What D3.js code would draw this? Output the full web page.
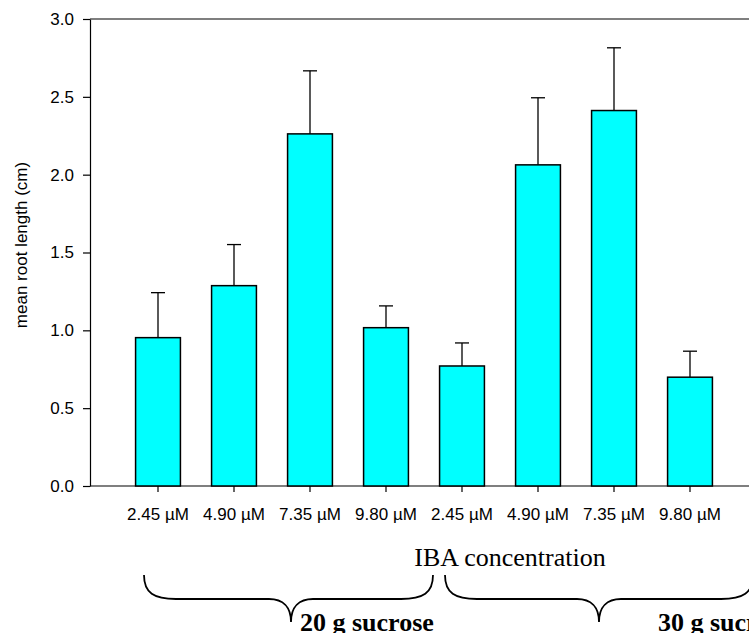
<!DOCTYPE html>
<html>
<head>
<meta charset="utf-8">
<script src="https://cdn.jsdelivr.net/npm/d3@7"></script>
<style>
  body { margin: 0; background: #fff; }
  svg { display: block; }
</style>
</head>
<body>
<svg id="svg" width="749" height="633"></svg>
<script>
// data
const doses = ["2.45 µM", "4.90 µM", "7.35 µM", "9.80 µM", "2.45 µM", "4.90 µM", "7.35 µM", "9.80 µM"];
const means = [0.953, 1.287, 2.262, 1.017, 0.771, 2.063, 2.412, 0.699];
const errors = [0.289, 0.264, 0.405, 0.14, 0.148, 0.431, 0.403, 0.167];
const yTicks = [0, 0.5, 1.0, 1.5, 2.0, 2.5, 3.0];
const groups = ["20 g sucrose", "30 g sucrose"];

const SANS = "'Liberation Sans', Arial, sans-serif";
const SERIF = "'Liberation Serif', 'Times New Roman', serif";

function main() {
    let svg = d3.select("#svg");
    let left = 90, right = 749;

    let y = d3.scaleLinear().domain([0, 3]).range([486, 19]);
    let x = d3.scaleBand()
        .domain(d3.range(doses.length))
        .range([120, 728])
        .paddingInner(0.41)
        .paddingOuter(0.205);

    // frame: top line and x axis line run off the right edge
    svg.append("line")
        .attr("x1", left).attr("x2", right)
        .attr("y1", y(3)).attr("y2", y(3))
        .attr("stroke", "black").attr("stroke-width", 1.2);
    svg.append("line")
        .attr("x1", left).attr("x2", right)
        .attr("y1", y(0)).attr("y2", y(0))
        .attr("stroke", "black").attr("stroke-width", 1.2);

    // y axis
    let yAxis = svg.append("g")
        .attr("transform", `translate(${left},0)`)
        .call(d3.axisLeft(y).tickValues(yTicks).tickFormat(d3.format(".1f"))
            .tickSize(7).tickSizeOuter(0).tickPadding(9));
    yAxis.select(".domain").attr("stroke-width", 1.2);
    yAxis.selectAll(".tick line").attr("stroke-width", 1.2);
    yAxis.selectAll("text")
        .attr("font-family", SANS).attr("font-size", 17).attr("fill", "black");

    // x axis ticks and labels
    let xAxis = svg.append("g")
        .attr("transform", `translate(0,${y(0)})`)
        .call(d3.axisBottom(x).tickFormat(i => doses[i]).tickSize(6).tickPadding(16));
    xAxis.select(".domain").remove();
    xAxis.selectAll(".tick line").attr("stroke-width", 1.2);
    xAxis.selectAll("text")
        .attr("font-family", SANS).attr("font-size", 17).attr("fill", "black");

    // error bars (upper only)
    let err = svg.append("g").attr("stroke", "black").attr("stroke-width", 1.3);
    doses.forEach((d, i) => {
        let cx = x(i) + x.bandwidth() / 2;
        err.append("line")
            .attr("x1", cx).attr("x2", cx)
            .attr("y1", y(means[i])).attr("y2", y(means[i] + errors[i]));
        err.append("line")
            .attr("x1", cx - 7).attr("x2", cx + 7)
            .attr("y1", y(means[i] + errors[i])).attr("y2", y(means[i] + errors[i]));
    });

    // bars
    svg.append("g").selectAll("rect")
        .data(means)
        .join("rect")
        .attr("x", (d, i) => x(i))
        .attr("y", d => y(d))
        .attr("width", x.bandwidth())
        .attr("height", d => y(0) - y(d))
        .attr("fill", "#00ffff")
        .attr("stroke", "black")
        .attr("stroke-width", 1.5);

    // y label
    svg.append("text")
        .attr("transform", "translate(27,245) rotate(-90)")
        .attr("text-anchor", "middle")
        .attr("font-family", SANS).attr("font-size", 17)
        .text("mean root length (cm)");

    // x label
    svg.append("text")
        .attr("x", 510).attr("y", 566)
        .attr("text-anchor", "middle")
        .attr("font-family", SERIF).attr("font-size", 26)
        .text("IBA concentration");

    // braces under the two sucrose groups (the picture is cut at the right and bottom)
    let braces = [
        { x0: 144, x1: 433, mid: 291, labelX: 300 },
        { x0: 445, x1: 753, mid: 599, labelX: 658 }
    ];
    let top = 575, flat = 599, tip = 622;
    braces.forEach((b, i) => {
        let p = d3.path();
        p.moveTo(b.x0, top);
        p.bezierCurveTo(b.x0, flat - 6, b.x0 + 10, flat, b.x0 + 32, flat);
        p.lineTo(b.mid - 22, flat);
        p.bezierCurveTo(b.mid - 8, flat, b.mid, flat + 8, b.mid, tip);
        p.bezierCurveTo(b.mid, flat + 8, b.mid + 8, flat, b.mid + 22, flat);
        p.lineTo(b.x1 - 32, flat);
        p.bezierCurveTo(b.x1 - 10, flat, b.x1, flat - 6, b.x1, top);
        svg.append("path")
            .attr("d", p.toString())
            .attr("fill", "none")
            .attr("stroke", "black")
            .attr("stroke-width", 1.8);
        svg.append("text")
            .attr("x", b.labelX).attr("y", 631)
            .attr("font-family", SERIF).attr("font-size", 26)
            .attr("font-weight", "bold")
            .text(groups[i]);
    });
}
main();
</script>
</body>
</html>
